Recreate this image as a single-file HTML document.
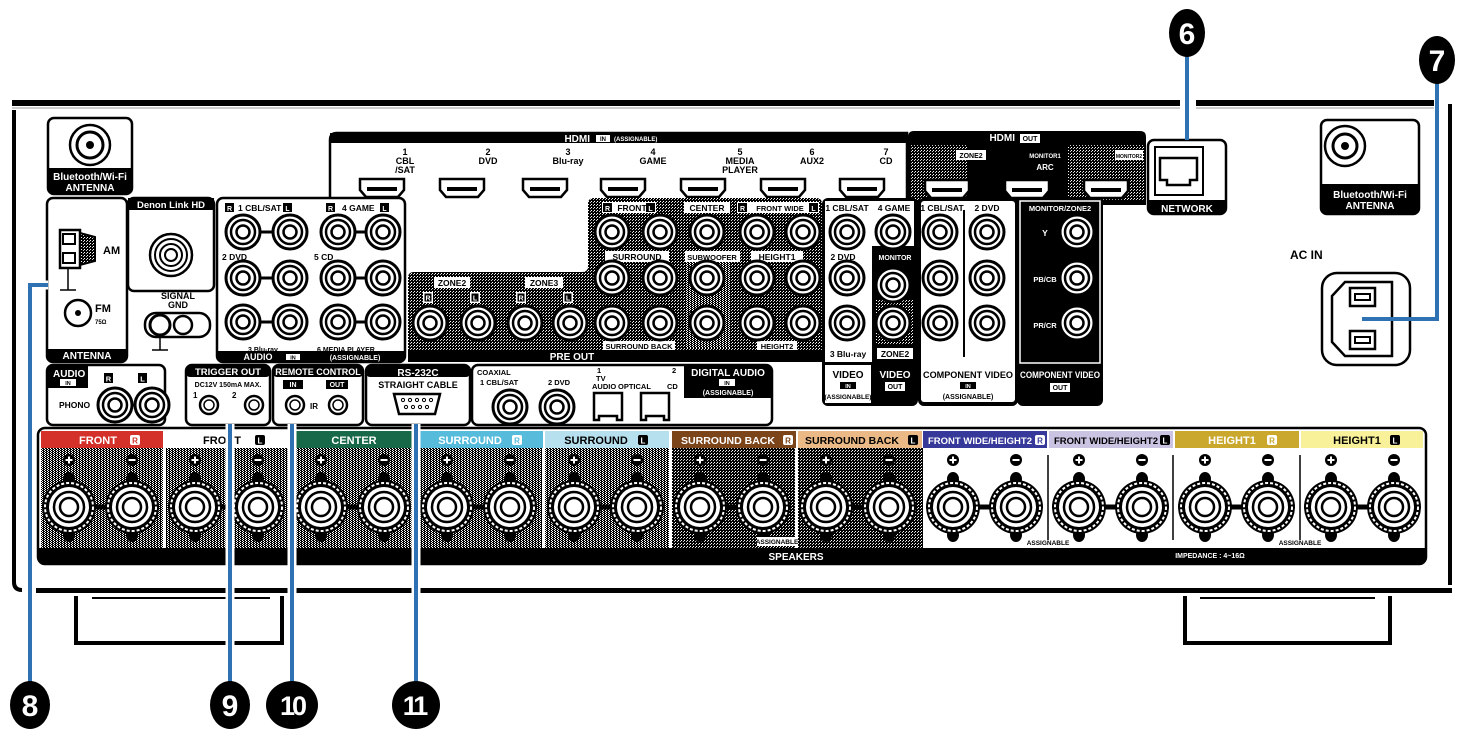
<!DOCTYPE html>
<html><head><meta charset="utf-8"><style>
html,body{margin:0;padding:0;background:#fff}
svg{display:block}
text{font-family:"Liberation Sans",sans-serif;font-weight:bold}
</style></head><body>
<svg width="1465" height="730" viewBox="0 0 1465 730" xmlns="http://www.w3.org/2000/svg">
<defs>
<pattern id="dk" width="3" height="3" patternUnits="userSpaceOnUse"><rect width="3" height="3" fill="#000"/><rect x="0" y="0" width="1" height="1" fill="#fff"/><rect x="2" y="1" width="1" height="1" fill="#ccc"/></pattern>
<pattern id="gr" width="3" height="2" patternUnits="userSpaceOnUse"><rect width="3" height="2" fill="#fff"/><rect width="2" height="1" fill="#000"/><rect x="1" y="1" width="2" height="1" fill="#000"/></pattern>
<g id="rca"><circle r="17" fill="#fff" stroke="#000" stroke-width="3"/><circle r="12" fill="none" stroke="#000" stroke-width="2.5"/><circle r="6.5" fill="none" stroke="#000" stroke-width="2.5"/></g>
<g id="bp"><ellipse cx="0" cy="-28" rx="6" ry="7" fill="#000"/><ellipse cx="0" cy="28" rx="6" ry="7" fill="#000"/><circle r="27" fill="#000"/><circle r="24" fill="none" stroke="#fff" stroke-width="2" stroke-dasharray="3 2"/><circle r="20" fill="#fff"/><circle r="15" fill="none" stroke="#000" stroke-width="2.5"/><circle r="9" fill="none" stroke="#000" stroke-width="2.5"/></g>
<g id="hdmi"><path d="M-22,-9 H22 V2 L16,9 H-16 L-22,2 Z" fill="#fff" stroke="#000" stroke-width="2.5"/><rect x="-15" y="-1" width="30" height="4" fill="#000"/></g>
<g id="plus"><circle r="6" fill="#000"/><path d="M-3.5,0H3.5M0,-3.5V3.5" stroke="#fff" stroke-width="2"/></g>
<g id="minus"><circle r="6" fill="#000"/><path d="M-3.5,0H3.5" stroke="#fff" stroke-width="2"/></g>
</defs>

<!-- chassis -->
<path d="M14,110 V582 Q14,590 22,590" fill="none" stroke="#000" stroke-width="4"/>
<rect x="12" y="100" width="1168" height="6" fill="#000"/>
<rect x="1196" y="100" width="238" height="6" fill="#000"/>
<path d="M12,108 H1180 M1196,108 H1434" stroke="#999" stroke-width="1"/>
<path d="M1450,104 V585" stroke="#000" stroke-width="4"/>
<rect x="36" y="588" width="1416" height="5" fill="#000"/>
<path d="M76,596 V643 H282 V596" fill="none" stroke="#000" stroke-width="4"/>
<path d="M92,598 H270" stroke="#000" stroke-width="2"/>
<path d="M1185,596 V643 H1390 V596" fill="none" stroke="#000" stroke-width="4"/>
<path d="M1200,598 H1375" stroke="#000" stroke-width="2"/>

<!-- BT antenna left -->
<rect x="48" y="118" width="84" height="76" rx="6" fill="#fff" stroke="#000" stroke-width="2.5"/>
<path d="M48,168 H132 V188 Q132,194 126,194 H54 Q48,194 48,188Z" fill="#000"/>
<circle cx="90" cy="145" r="20" fill="#fff" stroke="#000" stroke-width="2.5"/><circle cx="90" cy="145" r="13" fill="#fff" stroke="#000" stroke-width="3"/><circle cx="90" cy="145" r="4" fill="#000"/>
<text x="90" y="180" font-size="10" fill="#fff" text-anchor="middle">Bluetooth/Wi-Fi</text>
<text x="90" y="191" font-size="10" fill="#fff" text-anchor="middle">ANTENNA</text>
<!-- BT antenna right -->
<rect x="1321" y="120" width="98" height="94" rx="6" fill="#fff" stroke="#000" stroke-width="2.5"/>
<path d="M1321,184 H1419 V208 Q1419,214 1413,214 H1327 Q1321,214 1321,208Z" fill="#000"/>
<circle cx="1345" cy="146" r="20" fill="#fff" stroke="#000" stroke-width="2.5"/><circle cx="1345" cy="146" r="12" fill="#fff" stroke="#000" stroke-width="3"/><circle cx="1345" cy="146" r="4" fill="#000"/>
<text x="1370" y="198" font-size="10" fill="#fff" text-anchor="middle">Bluetooth/Wi-Fi</text>
<text x="1370" y="209" font-size="10" fill="#fff" text-anchor="middle">ANTENNA</text>

<!-- HDMI IN -->
<path d="M330,200 V140 Q330,133 337,133 H907 V200" fill="#fff" stroke="#000" stroke-width="2.5"/>
<rect x="330" y="133" width="577" height="10" fill="#000"/>
<text x="590" y="142" font-size="10" fill="#fff" text-anchor="end">HDMI</text>
<rect x="596" y="135" width="14" height="7" fill="#fff"/><text x="603" y="141" font-size="6" text-anchor="middle">IN</text>
<text x="614" y="141" font-size="6" fill="#fff">(ASSIGNABLE)</text>
<g font-size="9" text-anchor="middle">
<text x="405" y="155">1</text><text x="405" y="164">CBL</text><text x="405" y="173">/SAT</text>
<text x="488" y="155">2</text><text x="488" y="164">DVD</text>
<text x="568" y="155">3</text><text x="568" y="164">Blu-ray</text>
<text x="653" y="155">4</text><text x="653" y="164">GAME</text>
<text x="740" y="155">5</text><text x="740" y="164">MEDIA</text><text x="740" y="173">PLAYER</text>
<text x="812" y="155">6</text><text x="812" y="164">AUX2</text>
<text x="886" y="155">7</text><text x="886" y="164">CD</text>
</g>
<use href="#hdmi" x="382" y="188"/><use href="#hdmi" x="462" y="188"/><use href="#hdmi" x="545" y="188"/><use href="#hdmi" x="623" y="188"/><use href="#hdmi" x="703" y="188"/><use href="#hdmi" x="783" y="188"/><use href="#hdmi" x="862" y="188"/>

<!-- HDMI OUT -->
<path d="M908,205 V137 Q908,131 914,131 H1140 Q1146,131 1146,137 V205Z" fill="#000"/>
<rect x="910" y="145" width="58" height="55" fill="url(#dk)"/>
<rect x="1068" y="145" width="76" height="55" fill="url(#dk)"/>
<text x="1015" y="141" font-size="10" fill="#fff" text-anchor="end">HDMI</text>
<rect x="1020" y="134" width="20" height="9" fill="#fff"/><text x="1030" y="141" font-size="7" text-anchor="middle">OUT</text>
<rect x="956" y="150" width="30" height="10" fill="#fff"/><text x="971" y="158" font-size="7" text-anchor="middle">ZONE2</text>
<text x="1045" y="158" font-size="6" fill="#fff" text-anchor="middle">MONITOR1</text>
<text x="1045" y="170" font-size="8" fill="#fff" text-anchor="middle">ARC</text>
<rect x="1115" y="150" width="28" height="10" fill="#fff"/><text x="1129" y="158" font-size="5" text-anchor="middle">MONITOR2</text>
<use href="#hdmi" x="947" y="189"/><use href="#hdmi" x="1027" y="189"/><use href="#hdmi" x="1106" y="189"/>

<!-- NETWORK -->
<rect x="1148" y="140" width="78" height="74" rx="6" fill="#fff" stroke="#000" stroke-width="2.5"/>
<path d="M1148,200 H1226 V208 Q1226,214 1220,214 H1154 Q1148,214 1148,208Z" fill="#000"/>
<text x="1187" y="212" font-size="10" fill="#fff" text-anchor="middle">NETWORK</text>
<rect x="1155" y="147" width="48" height="48" fill="#fff" stroke="#000" stroke-width="2"/>
<path d="M1160,158 H1197 V180 H1190 V185 H1167 V180 H1160Z" fill="#fff" stroke="#000" stroke-width="2.5"/>

<!-- ANTENNA -->
<rect x="47" y="198" width="80" height="164" rx="6" fill="#fff" stroke="#000" stroke-width="2.5"/>
<path d="M47,349 H127 V356 Q127,362 121,362 H53 Q47,362 47,356Z" fill="#000"/>
<text x="87" y="359" font-size="10" fill="#fff" text-anchor="middle">ANTENNA</text>
<rect x="60" y="230" width="20" height="38" fill="#fff" stroke="#000" stroke-width="2.5"/>
<rect x="63" y="234" width="12" height="10" fill="none" stroke="#000" stroke-width="2"/><rect x="63" y="253" width="12" height="10" fill="none" stroke="#000" stroke-width="2"/>
<path d="M80,233 L95,237 V261 L80,265Z" fill="url(#dk)" stroke="#000" stroke-width="2"/>
<text x="103" y="254" font-size="11">AM</text>
<path d="M68,268 V290 M60,290 H76" stroke="#000" stroke-width="1.5"/>
<circle cx="78" cy="313" r="13" fill="#fff" stroke="#000" stroke-width="2.5"/><circle cx="78" cy="313" r="3" fill="#000"/>
<text x="95" y="312" font-size="11">FM</text><text x="95" y="324" font-size="6">75Ω</text>
<!-- Denon Link -->
<rect x="128" y="198" width="86" height="93" rx="6" fill="#fff" stroke="#000" stroke-width="2.5"/>
<rect x="128" y="198" width="86" height="12" fill="#000"/>
<text x="171" y="208" font-size="9.5" fill="#fff" text-anchor="middle">Denon Link HD</text>
<circle cx="171" cy="255" r="21" fill="#fff" stroke="#000" stroke-width="2.5"/><circle cx="171" cy="255" r="16" fill="none" stroke="#000" stroke-width="2"/><circle cx="171" cy="255" r="11" fill="none" stroke="#000" stroke-width="2"/><circle cx="171" cy="255" r="6" fill="none" stroke="#000" stroke-width="2"/>
<text x="178" y="299" font-size="9" text-anchor="middle">SIGNAL</text><text x="178" y="308" font-size="9" text-anchor="middle">GND</text>
<rect x="145" y="313" width="65" height="24" rx="11" fill="#fff" stroke="#000" stroke-width="2.5"/>
<circle cx="160" cy="325" r="10" fill="#fff" stroke="#000" stroke-width="3"/><circle cx="183" cy="325" r="9" fill="#fff" stroke="#000" stroke-width="2.5"/>
<path d="M160,335 V350 M152,350 H168" stroke="#000" stroke-width="1.5"/>

<!-- AUDIO IN -->
<rect x="217" y="198" width="188" height="164" rx="6" fill="#fff" stroke="#000" stroke-width="2.5"/>
<path d="M217,351 H405 V356 Q405,362 399,362 H223 Q217,362 217,356Z" fill="#000"/>
<text x="258" y="360" font-size="9" fill="#fff" text-anchor="middle">AUDIO</text>
<rect x="286" y="354" width="14" height="6" fill="#fff"/><text x="293" y="359.5" font-size="5.5" text-anchor="middle">IN</text>
<text x="355" y="360" font-size="7" fill="#fff" text-anchor="middle">(ASSIGNABLE)</text>
<g font-size="8.5">
<rect x="225" y="203" width="9" height="9" fill="#000"/><text x="229.5" y="211" font-size="7" fill="#fff" text-anchor="middle">R</text>
<text x="238" y="211">1 CBL/SAT</text><rect x="283" y="203" width="9" height="9" fill="#000"/><text x="287.5" y="211" font-size="7" fill="#fff" text-anchor="middle">L</text>
<rect x="326" y="203" width="9" height="9" fill="#000"/><text x="330.5" y="211" font-size="7" fill="#fff" text-anchor="middle">R</text>
<text x="342" y="211">4 GAME</text><rect x="380" y="203" width="9" height="9" fill="#000"/><text x="384.5" y="211" font-size="7" fill="#fff" text-anchor="middle">L</text>
<text x="222" y="260">2 DVD</text><text x="314" y="260">5 CD</text>
<text x="248" y="352" font-size="7">3 Blu-ray</text><text x="317" y="352" font-size="7">6 MEDIA PLAYER</text>
</g>
<path d="M243,232 H290 M338,232 H383 M243,278 H290 M338,278 H383 M243,322 H290 M338,322 H383" stroke="#000" stroke-width="3"/>
<use href="#rca" x="243" y="232"/><use href="#rca" x="290" y="232"/><use href="#rca" x="338" y="232"/><use href="#rca" x="383" y="232"/>
<use href="#rca" x="243" y="278"/><use href="#rca" x="290" y="278"/><use href="#rca" x="338" y="278"/><use href="#rca" x="383" y="278"/>
<use href="#rca" x="243" y="322"/><use href="#rca" x="290" y="322"/><use href="#rca" x="338" y="322"/><use href="#rca" x="383" y="322"/>

<!-- PRE OUT -->
<path d="M408,362 V278 Q408,272 414,272 H582 Q588,272 588,266 V204 Q588,198 594,198 H816 Q822,198 822,204 V356 Q822,362 816,362Z" fill="url(#dk)"/>
<rect x="408" y="350" width="414" height="12" fill="#000"/>
<text x="572" y="360" font-size="10" fill="#fff" text-anchor="middle">PRE OUT</text>
<rect x="685" y="262" width="45" height="86" fill="url(#gr)"/>
<g font-size="8.5" text-anchor="middle">
<rect x="434" y="277" width="36" height="11" fill="#fff"/><text x="452" y="286">ZONE2</text>
<rect x="525" y="277" width="38" height="11" fill="#fff"/><text x="544" y="286">ZONE3</text>
<rect x="602" y="202" width="54" height="11" fill="#fff"/><text x="632" y="211">FRONT</text>
<rect x="603" y="203" width="9" height="9" fill="#000"/><rect x="646" y="203" width="9" height="9" fill="#000"/>
<text x="607.5" y="211" font-size="7" fill="#fff">R</text><text x="650.5" y="211" font-size="7" fill="#fff">L</text>
<rect x="684" y="202" width="46" height="11" fill="#fff"/><text x="707" y="211">CENTER</text>
<rect x="737" y="202" width="82" height="11" fill="#fff"/><text x="780" y="211" font-size="7.5">FRONT WIDE</text>
<rect x="738" y="203" width="9" height="9" fill="#000"/><rect x="809" y="203" width="9" height="9" fill="#000"/>
<text x="742.5" y="211" font-size="7" fill="#fff">R</text><text x="813.5" y="211" font-size="7" fill="#fff">L</text>
<rect x="605" y="251" width="64" height="11" fill="#fff"/><text x="637" y="260">SURROUND</text>
<rect x="685" y="251" width="55" height="11" fill="#fff"/><text x="712" y="260" font-size="7.5">SUBWOOFER</text>
<rect x="751" y="251" width="52" height="11" fill="#fff"/><text x="777" y="260">HEIGHT1</text>
<rect x="603" y="341" width="72" height="9" fill="#fff"/><text x="639" y="349" font-size="7.5">SURROUND BACK</text>
<rect x="757" y="341" width="40" height="9" fill="#fff"/><text x="777" y="349" font-size="7.5">HEIGHT2</text>
</g>
<g font-size="7" text-anchor="middle" fill="#fff">
<rect x="423" y="292" width="10" height="11" fill="#fff"/><rect x="470" y="292" width="10" height="11" fill="#fff"/><rect x="516" y="292" width="10" height="11" fill="#fff"/><rect x="563" y="292" width="10" height="11" fill="#fff"/>
<rect x="424.5" y="293.5" width="7" height="8" fill="#000"/><rect x="471.5" y="293.5" width="7" height="8" fill="#000"/><rect x="517.5" y="293.5" width="7" height="8" fill="#000"/><rect x="564.5" y="293.5" width="7" height="8" fill="#000"/>
<text x="428" y="300.5">R</text><text x="475" y="300.5">L</text><text x="521" y="300.5">R</text><text x="568" y="300.5">L</text>
</g>
<use href="#rca" x="430" y="323"/><use href="#rca" x="478" y="323"/><use href="#rca" x="525" y="323"/><use href="#rca" x="570" y="323"/>
<use href="#rca" x="612" y="232"/><use href="#rca" x="660" y="232"/><use href="#rca" x="707" y="232"/><use href="#rca" x="757" y="232"/><use href="#rca" x="803" y="232"/>
<use href="#rca" x="612" y="278"/><use href="#rca" x="660" y="278"/><use href="#rca" x="707" y="278"/><use href="#rca" x="757" y="278"/><use href="#rca" x="803" y="278"/>
<use href="#rca" x="612" y="323"/><use href="#rca" x="660" y="323"/><use href="#rca" x="707" y="323"/><use href="#rca" x="757" y="323"/><use href="#rca" x="803" y="323"/>
<text x="688" y="272" font-size="8">1</text><text x="688" y="317" font-size="8">2</text>

<!-- VIDEO IN/OUT -->
<rect x="822" y="198" width="96" height="208" rx="6" fill="#000"/>
<path d="M825,201 H914 V246 H872 V362 H825Z" fill="#fff"/>
<rect x="874" y="250" width="42" height="112" fill="#000"/>
<rect x="876" y="300" width="38" height="45" fill="url(#dk)"/>
<rect x="825" y="365" width="46" height="38" fill="#fff"/>
<g font-size="8.5" text-anchor="middle">
<text x="847" y="211">1 CBL/SAT</text><text x="894" y="211">4 GAME</text>
<text x="843" y="260">2 DVD</text><text x="848" y="357">3 Blu-ray</text>
<text x="895" y="260" font-size="7" fill="#fff">MONITOR</text>
<rect x="877" y="348" width="36" height="11" fill="#fff"/><text x="895" y="357">ZONE2</text>
<text x="848" y="378" font-size="10">VIDEO</text><rect x="840" y="382" width="16" height="7" fill="#000"/><text x="848" y="388" font-size="5.5" fill="#fff">IN</text>
<text x="848" y="399" font-size="6.5">(ASSIGNABLE)</text>
<text x="895" y="378" font-size="10" fill="#fff">VIDEO</text><rect x="885" y="382" width="20" height="9" fill="#fff"/><text x="895" y="389" font-size="7">OUT</text>
</g>
<use href="#rca" x="847" y="232"/><use href="#rca" x="893" y="232"/><use href="#rca" x="847" y="278"/><use href="#rca" x="847" y="323"/><use href="#rca" x="893" y="285"/><use href="#rca" x="893" y="323"/>

<!-- COMPONENT IN -->
<rect x="918" y="198" width="100" height="208" rx="6" fill="#000"/>
<rect x="921" y="201" width="94" height="201" rx="3" fill="#fff"/>
<path d="M964,210 V357" stroke="#000" stroke-width="2"/>
<g font-size="8.5" text-anchor="middle">
<text x="942" y="211">1 CBL/SAT</text><text x="987" y="211">2 DVD</text>
<text x="968" y="378" font-size="9" textLength="90" lengthAdjust="spacingAndGlyphs">COMPONENT VIDEO</text><rect x="960" y="382" width="16" height="7" fill="#000"/><text x="968" y="388" font-size="5.5" fill="#fff">IN</text>
<text x="968" y="399" font-size="7">(ASSIGNABLE)</text>
</g>
<use href="#rca" x="940" y="232"/><use href="#rca" x="987" y="232"/><use href="#rca" x="940" y="278"/><use href="#rca" x="987" y="278"/><use href="#rca" x="940" y="323"/><use href="#rca" x="987" y="323"/>
<!-- COMPONENT OUT -->
<rect x="1017" y="198" width="86" height="208" rx="6" fill="#000"/>
<rect x="1020" y="201" width="80" height="162" fill="none" stroke="#fff" stroke-width="1.5"/>
<g font-size="8.5" text-anchor="middle" fill="#fff">
<text x="1060" y="211" font-size="7.5">MONITOR/ZONE2</text>
<text x="1045" y="236">Y</text><text x="1045" y="282" font-size="7.5">PB/CB</text><text x="1045" y="328" font-size="7.5">PR/CR</text>
<text x="1060" y="378" font-size="9" textLength="80" lengthAdjust="spacingAndGlyphs">COMPONENT VIDEO</text>
<rect x="1050" y="383" width="20" height="9" fill="#fff"/><text x="1060" y="390" font-size="7" fill="#000">OUT</text>
</g>
<use href="#rca" x="1077" y="232"/><use href="#rca" x="1077" y="278"/><use href="#rca" x="1077" y="323"/>

<!-- AC IN -->
<text x="1290" y="259" font-size="12">AC IN</text>
<rect x="1322" y="273" width="88" height="92" rx="15" fill="#fff" stroke="#000" stroke-width="2.5"/>
<path d="M1345,282 H1392 V356 H1345 L1332,342 V296Z" fill="#fff" stroke="#000" stroke-width="2.5"/>
<rect x="1350" y="288" width="25" height="18" fill="none" stroke="#000" stroke-width="2.5"/><rect x="1355" y="294" width="15" height="6" fill="none" stroke="#000" stroke-width="2"/>
<rect x="1350" y="331" width="25" height="18" fill="none" stroke="#000" stroke-width="2.5"/><rect x="1355" y="337" width="15" height="6" fill="none" stroke="#000" stroke-width="2"/>

<!-- row 3 -->
<rect x="47" y="365" width="118" height="60" rx="6" fill="#fff" stroke="#000" stroke-width="2.5"/>
<path d="M47,371 Q47,365 53,365 H88 V388 H47Z" fill="#000"/>
<text x="53" y="377" font-size="10" fill="#fff">AUDIO</text><rect x="60" y="379" width="16" height="7" fill="#fff"/><text x="68" y="385" font-size="5.5" text-anchor="middle">IN</text>
<rect x="104" y="373" width="9" height="10" fill="#000"/><rect x="138" y="373" width="9" height="10" fill="#000"/>
<text x="108.5" y="381.5" font-size="7.5" fill="#fff" text-anchor="middle">R</text><text x="142.5" y="381.5" font-size="7.5" fill="#fff" text-anchor="middle">L</text>
<text x="59" y="408" font-size="8.5">PHONO</text>
<path d="M115,405 H152" stroke="#000" stroke-width="3"/>
<use href="#rca" x="115" y="405"/><use href="#rca" x="152" y="405"/>

<rect x="186" y="365" width="84" height="60" rx="6" fill="#fff" stroke="#000" stroke-width="2.5"/>
<rect x="186" y="365" width="84" height="12" rx="4" fill="#000"/>
<text x="228" y="375" font-size="9.5" fill="#fff" text-anchor="middle">TRIGGER OUT</text>
<text x="228" y="387" font-size="7" text-anchor="middle">DC12V 150mA MAX.</text>
<text x="193" y="398" font-size="8">1</text><text x="232" y="398" font-size="8">2</text>
<circle cx="209" cy="405" r="9" fill="#fff" stroke="#000" stroke-width="2.5"/><circle cx="209" cy="405" r="5" fill="none" stroke="#000" stroke-width="1.5"/>
<circle cx="254" cy="405" r="9" fill="#fff" stroke="#000" stroke-width="2.5"/><circle cx="254" cy="405" r="5" fill="none" stroke="#000" stroke-width="1.5"/>

<rect x="273" y="365" width="90" height="60" rx="6" fill="#fff" stroke="#000" stroke-width="2.5"/>
<rect x="273" y="365" width="90" height="12" rx="4" fill="#000"/>
<text x="318" y="375" font-size="9" fill="#fff" text-anchor="middle">REMOTE CONTROL</text>
<rect x="283" y="380" width="20" height="9" fill="#000"/><rect x="326" y="380" width="22" height="9" fill="#000"/>
<text x="293" y="387" font-size="7" fill="#fff" text-anchor="middle">IN</text><text x="337" y="387" font-size="7" fill="#fff" text-anchor="middle">OUT</text>
<circle cx="295" cy="405" r="9" fill="#fff" stroke="#000" stroke-width="2.5"/><circle cx="295" cy="405" r="5" fill="none" stroke="#000" stroke-width="1.5"/>
<circle cx="338" cy="405" r="9" fill="#fff" stroke="#000" stroke-width="2.5"/><circle cx="338" cy="405" r="5" fill="none" stroke="#000" stroke-width="1.5"/>
<text x="310" y="409" font-size="8">IR</text>

<rect x="366" y="365" width="104" height="60" rx="6" fill="#fff" stroke="#000" stroke-width="2.5"/>
<rect x="366" y="365" width="104" height="12" rx="4" fill="#000"/>
<text x="418" y="376" font-size="10" fill="#fff" text-anchor="middle">RS-232C</text>
<text x="418" y="388" font-size="9" text-anchor="middle">STRAIGHT CABLE</text>
<path d="M394,394 H440 L435,414 H399Z" fill="#fff" stroke="#000" stroke-width="2.5"/>
<g fill="none" stroke="#000" stroke-width="1"><circle cx="403" cy="400" r="1.6"/><circle cx="410" cy="400" r="1.6"/><circle cx="417" cy="400" r="1.6"/><circle cx="424" cy="400" r="1.6"/><circle cx="431" cy="400" r="1.6"/><circle cx="406" cy="407" r="1.6"/><circle cx="413" cy="407" r="1.6"/><circle cx="420" cy="407" r="1.6"/><circle cx="427" cy="407" r="1.6"/></g>

<rect x="472" y="365" width="300" height="60" rx="6" fill="#fff" stroke="#000" stroke-width="2.5"/>
<path d="M684,365 H766 Q772,365 772,371 V398 H684Z" fill="#000"/>
<text x="728" y="376" font-size="10" fill="#fff" text-anchor="middle">DIGITAL AUDIO</text>
<rect x="719" y="379" width="16" height="7" fill="#fff"/><text x="727" y="385" font-size="5.5" text-anchor="middle">IN</text>
<text x="728" y="395" font-size="7" fill="#fff" text-anchor="middle">(ASSIGNABLE)</text>
<g font-size="7.5"><text x="477" y="375">COAXIAL</text><text x="480" y="385">1 CBL/SAT</text><text x="548" y="385">2 DVD</text>
<text x="597" y="373">1</text><text x="596" y="381">TV</text><text x="592" y="389">AUDIO</text><text x="618" y="389">OPTICAL</text><text x="672" y="373">2</text><text x="667" y="389">CD</text></g>
<use href="#rca" x="510" y="407"/><use href="#rca" x="557" y="407"/>
<path d="M594,393 H622 V420 H617 V416 H599 V420 H594Z" fill="#fff" stroke="#000" stroke-width="2.5"/>
<path d="M641,393 H669 V420 H664 V416 H646 V420 H641Z" fill="#fff" stroke="#000" stroke-width="2.5"/>

<!-- SPEAKERS -->
<rect x="38" y="428" width="1388" height="136" rx="7" fill="#fff" stroke="#000" stroke-width="2.5"/>
<rect x="41" y="448" width="882" height="100" fill="url(#gr)"/>
<rect x="672" y="448" width="251" height="100" fill="url(#dk)"/>
<rect x="38" y="548" width="1388" height="16" rx="6" fill="#000"/>
<rect x="38" y="548" width="1388" height="6" fill="#000"/>
<text x="796" y="560" font-size="10" fill="#fff" text-anchor="middle">SPEAKERS</text>
<text x="1210" y="558" font-size="7" fill="#fff" text-anchor="middle">IMPEDANCE : 4~16Ω</text>
<g fill="#fff"><rect x="163" y="448" width="3" height="100"/><rect x="289" y="448" width="3" height="100"/><rect x="416" y="448" width="3" height="100"/><rect x="542" y="448" width="3" height="100"/><rect x="669" y="448" width="3" height="100"/><rect x="795" y="448" width="3" height="100"/></g>
<g stroke="#000" stroke-width="1.5"><path d="M1048,455 V540 M1173,455 V540 M1300,455 V540"/></g>
<rect x="41" y="431" width="122" height="17" fill="#d3312a"/>
<rect x="292" y="431" width="124" height="17" fill="#17694a"/>
<rect x="419" y="431" width="124" height="17" fill="#57bcdc"/>
<rect x="545" y="431" width="124" height="17" fill="#b7e0ee"/>
<rect x="672" y="431" width="124" height="17" fill="#7c4419"/>
<rect x="798" y="431" width="124" height="17" fill="#eab985"/>
<rect x="923" y="431" width="124" height="17" fill="#36399a"/>
<rect x="1049" y="431" width="124" height="17" fill="#cbc3e2"/>
<rect x="1175" y="431" width="124" height="17" fill="#c9a82d"/>
<rect x="1301" y="431" width="122" height="17" fill="#f8f199"/>
<g font-size="11" text-anchor="middle">
<text x="98" y="444" fill="#fff">FRONT</text><rect x="130" y="435" width="10" height="10" rx="2" fill="#fff"/><text x="135" y="443.5" font-size="8" fill="#d3312a">R</text>
<text x="222" y="444">FRONT</text><rect x="255" y="435" width="10" height="10" rx="2" fill="#000"/><text x="260" y="443.5" font-size="8" fill="#fff">L</text>
<text x="354" y="444" fill="#fff">CENTER</text>
<text x="470" y="444" fill="#fff">SURROUND</text><rect x="512" y="435" width="10" height="10" rx="2" fill="#fff"/><text x="517" y="443.5" font-size="8" fill="#57bcdc">R</text>
<text x="596" y="444">SURROUND</text><rect x="638" y="435" width="10" height="10" rx="2" fill="#000"/><text x="643" y="443.5" font-size="8" fill="#fff">L</text>
<text x="728" y="444" fill="#fff" font-size="10.5">SURROUND BACK</text><rect x="783" y="435" width="10" height="10" rx="2" fill="#fff"/><text x="788" y="443.5" font-size="8" fill="#7c4419">R</text>
<text x="852" y="444" font-size="10.5">SURROUND BACK</text><rect x="908" y="435" width="10" height="10" rx="2" fill="#000"/><text x="913" y="443.5" font-size="8" fill="#fff">L</text>
<text x="980" y="444" fill="#fff" font-size="9.5">FRONT WIDE/HEIGHT2</text><rect x="1035" y="435" width="10" height="10" rx="2" fill="#fff"/><text x="1040" y="443.5" font-size="8" fill="#36399a">R</text>
<text x="1106" y="444" font-size="9.5">FRONT WIDE/HEIGHT2</text><rect x="1160" y="435" width="10" height="10" rx="2" fill="#000"/><text x="1165" y="443.5" font-size="8" fill="#fff">L</text>
<text x="1232" y="444" fill="#fff">HEIGHT1</text><rect x="1267" y="435" width="10" height="10" rx="2" fill="#fff"/><text x="1272" y="443.5" font-size="8" fill="#c9a82d">R</text>
<text x="1357" y="444">HEIGHT1</text><rect x="1390" y="435" width="10" height="10" rx="2" fill="#000"/><text x="1395" y="443.5" font-size="8" fill="#fff">L</text>
</g>
<g>
<use href="#plus" x="69" y="460"/><use href="#minus" x="132" y="460"/>
<use href="#plus" x="195" y="460"/><use href="#minus" x="258" y="460"/>
<use href="#plus" x="321" y="460"/><use href="#minus" x="384" y="460"/>
<use href="#plus" x="447" y="460"/><use href="#minus" x="510" y="460"/>
<use href="#plus" x="574" y="460"/><use href="#minus" x="637" y="460"/>
<use href="#plus" x="700" y="460"/><use href="#minus" x="763" y="460"/>
<use href="#plus" x="826" y="460"/><use href="#minus" x="889" y="460"/>
<use href="#plus" x="953" y="460"/><use href="#minus" x="1016" y="460"/>
<use href="#plus" x="1079" y="460"/><use href="#minus" x="1142" y="460"/>
<use href="#plus" x="1205" y="460"/><use href="#minus" x="1268" y="460"/>
<use href="#plus" x="1331" y="460"/><use href="#minus" x="1394" y="460"/>
</g>
<g stroke="#000" stroke-width="5"><path d="M69,507H132M195,507H258M321,507H384M447,507H510M574,507H637M700,507H763M826,507H889M953,507H1016M1079,507H1142M1205,507H1268M1331,507H1394"/></g>
<use href="#bp" x="69" y="507"/><use href="#bp" x="132" y="507"/><use href="#bp" x="195" y="507"/><use href="#bp" x="258" y="507"/>
<use href="#bp" x="321" y="507"/><use href="#bp" x="384" y="507"/><use href="#bp" x="447" y="507"/><use href="#bp" x="510" y="507"/>
<use href="#bp" x="574" y="507"/><use href="#bp" x="637" y="507"/><use href="#bp" x="700" y="507"/><use href="#bp" x="763" y="507"/>
<use href="#bp" x="826" y="507"/><use href="#bp" x="889" y="507"/><use href="#bp" x="953" y="507"/><use href="#bp" x="1016" y="507"/>
<use href="#bp" x="1079" y="507"/><use href="#bp" x="1142" y="507"/><use href="#bp" x="1205" y="507"/><use href="#bp" x="1268" y="507"/>
<use href="#bp" x="1331" y="507"/><use href="#bp" x="1394" y="507"/>
<g font-size="6.5" text-anchor="middle"><rect x="757" y="537" width="40" height="9" fill="#fff"/><text x="777" y="544">ASSIGNABLE</text>
<text x="1048" y="545">ASSIGNABLE</text><text x="1300" y="545">ASSIGNABLE</text></g>

<!-- callout lines -->
<g stroke="#fff" stroke-width="9" fill="none">
<path d="M30,685 V285 H48"/><path d="M230,685 V424"/><path d="M292,685 V424"/><path d="M416,685 V424"/>
</g>
<g stroke="#2f72b4" stroke-width="4" fill="none">
<path d="M30,685 V285 H48"/><path d="M230,685 V424"/><path d="M292,685 V424"/><path d="M416,685 V424"/>
<path d="M1187,55 V140"/><path d="M1437,80 V319 H1362"/>
</g>
<g font-size="30" fill="#fff" text-anchor="middle">
<ellipse cx="1187" cy="33" rx="18" ry="24" fill="#000"/><text x="1187" y="44">6</text>
<ellipse cx="1437" cy="60" rx="18" ry="24" fill="#000"/><text x="1437" y="71">7</text>
<ellipse cx="30" cy="705" rx="20" ry="24" fill="#000"/><text x="30" y="716">8</text>
<ellipse cx="230" cy="705" rx="20" ry="24" fill="#000"/><text x="230" y="716">9</text>
<ellipse cx="292" cy="705" rx="26" ry="24" fill="#000"/><text x="292" y="715" font-size="27" letter-spacing="-3">10</text>
<ellipse cx="416" cy="705" rx="24" ry="24" fill="#000"/><text x="414" y="715" font-size="27" letter-spacing="-3">11</text>
</g>
</svg>
</body></html>
